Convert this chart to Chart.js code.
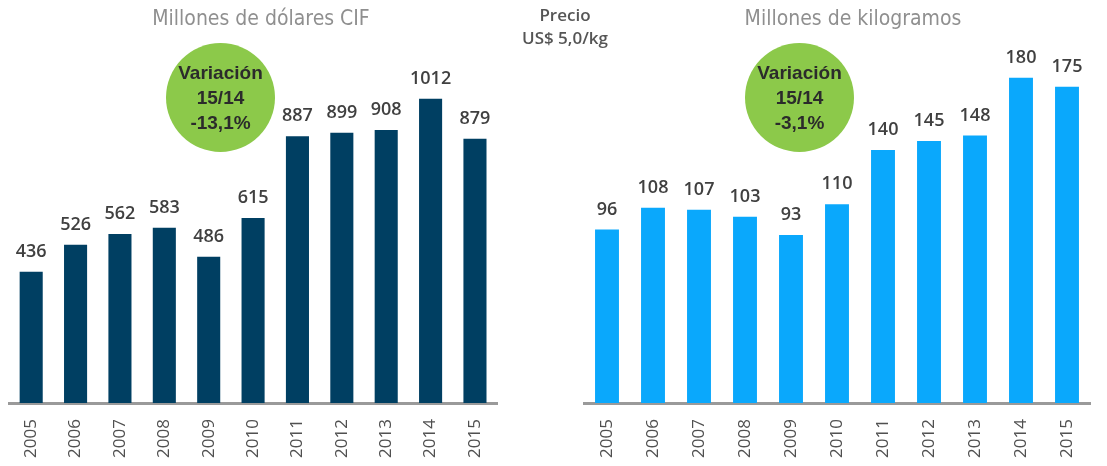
<!DOCTYPE html>
<html>
<head>
<meta charset="utf-8">
<script src="https://cdn.jsdelivr.net/npm/chart.js@4"></script>
<style>
  body { margin: 0; background: #fff; width: 1107px; height: 466px; position: relative; overflow: hidden; font-family: "Open Sans", sans-serif; }
  .box { position: absolute; top: 0; height: 466px; }
  .title { position: absolute; top: 6px; font-family: "Liberation Sans Narrow", "DejaVu Sans Condensed", sans-serif; font-size: 21px; color: #8f8f8f; white-space: nowrap; transform: translateX(-50%); }
  .precio { position: absolute; left: 565px; top: 3px; transform: translateX(-50%); text-align: center; font-size: 17px; font-weight: 600; color: #555; line-height: 23px; white-space: nowrap; }
  .circle { position: absolute; width: 109px; height: 109px; border-radius: 50%; background: #8cc94a; display: flex; flex-direction: column; justify-content: center; align-items: center; font-family: "Liberation Sans", sans-serif; font-weight: bold; font-size: 19px; line-height: 25px; color: #2b2b2b; }
</style>
</head>
<body>
<div class="box" style="left:0;width:512px"><canvas id="c1"></canvas></div>
<div class="box" style="left:560px;width:547px"><canvas id="c2"></canvas></div>
<div class="title" style="left:261px">Millones de dólares CIF</div>
<div class="title" style="left:853px">Millones de kilogramos</div>
<div class="precio">Precio<br>US$ 5,0/kg</div>
<div class="circle" style="left:166px;top:43px"><div>Variación</div><div>15/14</div><div>-13,1%</div></div>
<div class="circle" style="left:745px;top:43px"><div>Variación</div><div>15/14</div><div>-3,1%</div></div>
<script>
const years = ["2005", "2006", "2007", "2008", "2009", "2010", "2011", "2012", "2013", "2014", "2015"];
const dolares = [436, 526, 562, 583, 486, 615, 887, 899, 908, 1012, 879];
const kilos = [96, 108, 107, 103, 93, 110, 140, 145, 148, 180, 175];

// draws the value over each bar
const valueLabels = {
    id: 'valueLabels',
    afterDatasetsDraw(chart) {
        const ctx = chart.ctx;
        const meta = chart.getDatasetMeta(0);
        ctx.save();
        ctx.font = '600 18px "Open Sans"';
        ctx.fillStyle = '#404040';
        ctx.textAlign = 'center';
        ctx.textBaseline = 'alphabetic';
        meta.data.forEach((bar, i) => {
            ctx.fillText(chart.data.datasets[0].data[i], bar.x, bar.y - 15);
        });
        ctx.restore();
    }
};

function makeChart(id, values, color, yMax, padLeft, padRight) {
    return new Chart(document.getElementById(id), {
        type: 'bar',
        data: {
            labels: years,
            datasets: [{
                data: values,
                backgroundColor: color,
                barPercentage: 1,
                categoryPercentage: 0.52
            }]
        },
        options: {
            responsive: true,
            maintainAspectRatio: false,
            animation: false,
            layout: { padding: { left: padLeft, right: padRight, top: 0, bottom: 0 } },
            plugins: { legend: { display: false }, tooltip: { enabled: false } },
            scales: {
                x: {
                    grid: { display: false, drawTicks: false },
                    border: { display: true, color: '#9a9a9a', width: 3 },
                    ticks: {
                        color: '#505050',
                        font: { family: 'Open Sans', size: 17 },
                        minRotation: 90,
                        maxRotation: 90,
                        padding: 16
                    },
                    afterFit(scale) { scale.height = 63; }
                },
                y: { display: false, min: 0, max: yMax }
            }
        },
        plugins: [valueLabels]
    });
}

makeChart('c1', dolares, '#003f62', 1340, 9, 14);
makeChart('c2', kilos, '#0aa8fc', 223, 24, 17);
</script>
</body>
</html>
